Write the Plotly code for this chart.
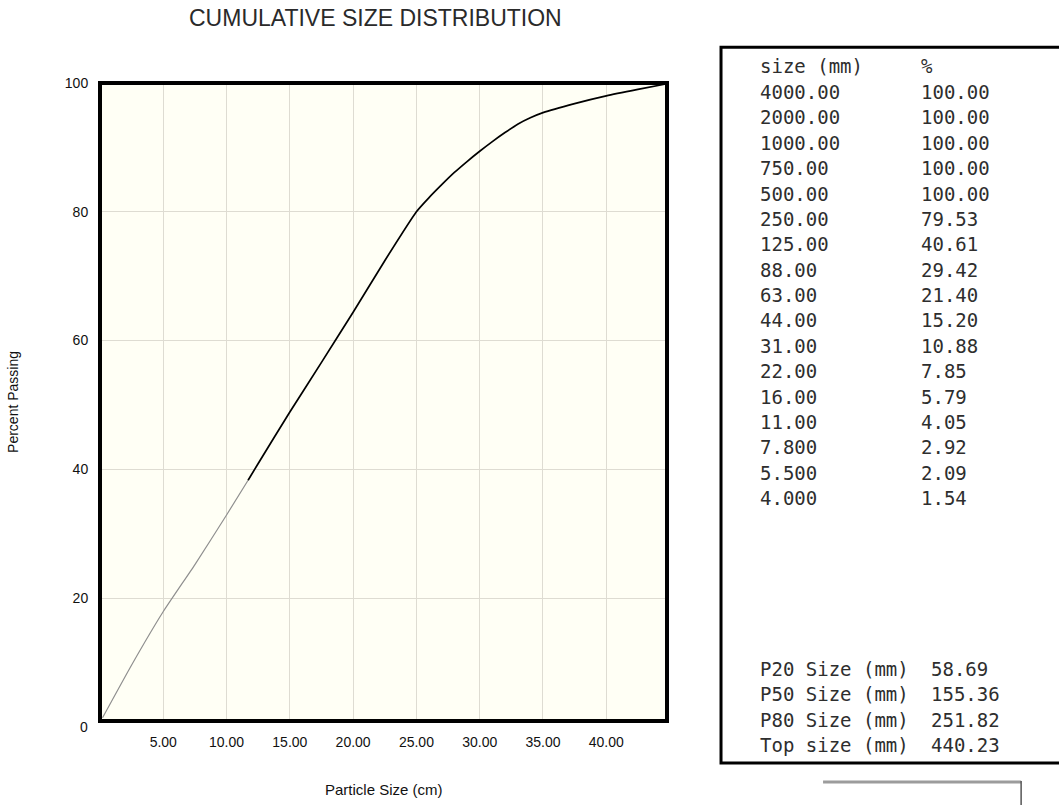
import plotly.graph_objects as go

# ---- data ----
curve_x = [0.2, 2.5, 5.0, 7.5, 10.0, 11.7, 12.5, 15.0, 17.5, 20.0, 22.5, 25.0, 26.0, 27.0,
           28.0, 29.0, 30.0, 31.0, 32.0, 33.0, 34.0, 35.0, 37.5, 40.0, 42.5, 44.6]
curve_y = [1.4, 9.6, 17.9, 25.2, 32.9, 38.3, 40.9, 48.9, 56.6, 64.4, 72.4, 80.0, 82.2, 84.2,
           86.1, 87.8, 89.4, 90.9, 92.3, 93.6, 94.6, 95.4, 96.8, 98.0, 99.0, 99.8]
light_end = 6  # first points drawn in a lighter tone in the reference

sizes_mm = ["4000.00", "2000.00", "1000.00", "750.00", "500.00", "250.00", "125.00", "88.00",
            "63.00", "44.00", "31.00", "22.00", "16.00", "11.00", "7.800", "5.500", "4.000"]
passing_pct = ["100.00", "100.00", "100.00", "100.00", "100.00", "79.53", "40.61", "29.42",
               "21.40", "15.20", "10.88", "7.85", "5.79", "4.05", "2.92", "2.09", "1.54"]
p_labels = ["P20 Size (mm)", "P50 Size (mm)", "P80 Size (mm)", "Top size (mm)"]
p_values = ["58.69", "155.36", "251.82", "440.23"]

x_ticks = [5, 10, 15, 20, 25, 30, 35, 40]
y_ticks = [20, 40, 60, 80, 100]

title_text = "CUMULATIVE SIZE DISTRIBUTION"
x_title = "Particle Size (cm)"
y_title = "Percent Passing"

# ---- layout geometry (pixels) ----
W, H = 1059, 805
L, R, T, B = 100.2, 667.0, 82.7, 721.0


def fx(px):
    return (px - L) / (R - L)


def fy(py):
    return (B - py) / (B - T)


fig = go.Figure()
fig.add_trace(go.Scatter(x=curve_x[:light_end], y=curve_y[:light_end], mode="lines",
                         line=dict(color="#8f8f8f", width=1.2, shape="spline", smoothing=0.5),
                         showlegend=False, hoverinfo="skip"))
fig.add_trace(go.Scatter(x=curve_x[light_end - 1:], y=curve_y[light_end - 1:], mode="lines",
                         line=dict(color="#000000", width=1.7, shape="spline", smoothing=0.5),
                         showlegend=False))

annotations = []
txt_font = dict(family="Liberation Sans, Arial, sans-serif", size=14, color="#111111")
annotations.append(dict(text=title_text, xref="paper", yref="paper", x=fx(376), y=fy(18),
                        xanchor="center", yanchor="middle", showarrow=False,
                        font=dict(family="Liberation Sans, Arial, sans-serif", size=23,
                                  color="#2a2a2a")))
annotations.append(dict(text=x_title, xref="paper", yref="paper", x=fx(384), y=fy(790),
                        xanchor="center", yanchor="middle", showarrow=False,
                        font=dict(family="Liberation Sans, Arial, sans-serif", size=15,
                                  color="#111111")))
annotations.append(dict(text=y_title, xref="paper", yref="paper", x=fx(13), y=fy(402),
                        xanchor="center", yanchor="middle", showarrow=False, textangle=-90,
                        font=dict(family="Liberation Sans, Arial, sans-serif", size=14,
                                  color="#111111")))
# zero label of the y axis (bottom frame sits just above 0)
annotations.append(dict(text="0", xref="paper", yref="paper", x=fx(90), y=fy(727),
                        xanchor="right", yanchor="middle", showarrow=False, font=txt_font))

mono = dict(family="DejaVu Sans Mono, monospace", size=19, color="#2e2e2e")
col1, col2 = 758, 919
annotations.append(dict(text="size (mm)", xref="paper", yref="paper", x=fx(col1), y=fy(66),
                        xanchor="left", yanchor="middle", showarrow=False, font=mono))
annotations.append(dict(text="%", xref="paper", yref="paper", x=fx(col2), y=fy(66),
                        xanchor="left", yanchor="middle", showarrow=False, font=mono))
for i, (s, p) in enumerate(zip(sizes_mm, passing_pct)):
    yy = 91.7 + 25.4 * i
    annotations.append(dict(text=s, xref="paper", yref="paper", x=fx(col1), y=fy(yy),
                            xanchor="left", yanchor="middle", showarrow=False, font=mono))
    annotations.append(dict(text=p, xref="paper", yref="paper", x=fx(col2), y=fy(yy),
                            xanchor="left", yanchor="middle", showarrow=False, font=mono))
for i, (lab, val) in enumerate(zip(p_labels, p_values)):
    yy = 669 + 25.3 * i
    annotations.append(dict(text=lab, xref="paper", yref="paper", x=fx(col1), y=fy(yy),
                            xanchor="left", yanchor="middle", showarrow=False, font=mono))
    annotations.append(dict(text=val, xref="paper", yref="paper", x=fx(929), y=fy(yy),
                            xanchor="left", yanchor="middle", showarrow=False, font=mono))

shapes = [
    # plot frame
    dict(type="rect", xref="paper", yref="paper", x0=0, x1=1, y0=0, y1=1,
         line=dict(color="#000000", width=4), fillcolor="rgba(0,0,0,0)"),
    # table box
    dict(type="rect", xref="paper", yref="paper", x0=fx(721), x1=fx(1066), y0=fy(763), y1=fy(47),
         line=dict(color="#000000", width=3), fillcolor="rgba(0,0,0,0)"),
    # small widget at lower right
    dict(type="line", xref="paper", yref="paper", x0=fx(823), x1=fx(1021), y0=fy(782), y1=fy(782),
         line=dict(color="#9c9c9c", width=3)),
    dict(type="line", xref="paper", yref="paper", x0=fx(1021), x1=fx(1021), y0=fy(781), y1=fy(810),
         line=dict(color="#555555", width=1.5)),
]

fig.update_layout(
    width=W, height=H,
    margin=dict(l=L, r=W - R, t=T, b=H - B, pad=0),
    paper_bgcolor="#ffffff",
    plot_bgcolor="#fffff5",
    showlegend=False,
    annotations=annotations,
    shapes=shapes,
    xaxis=dict(range=[0, 44.8], tickvals=x_ticks, tickformat=".2f", showgrid=True,
               gridcolor="#dedcd2", gridwidth=1, zeroline=False, showline=False,
               ticks="outside", ticklen=8, tickcolor="rgba(0,0,0,0)",
               tickfont=txt_font, fixedrange=True),
    yaxis=dict(range=[0.9, 100], tickvals=y_ticks, showgrid=True, gridcolor="#dedcd2",
               gridwidth=1, zeroline=False, showline=False, ticks="outside", ticklen=8,
               tickcolor="rgba(0,0,0,0)", tickfont=txt_font, fixedrange=True),
)

fig.write_html("out.html", config={"displayModeBar": False},
               post_script="document.body.style.margin='0';")
